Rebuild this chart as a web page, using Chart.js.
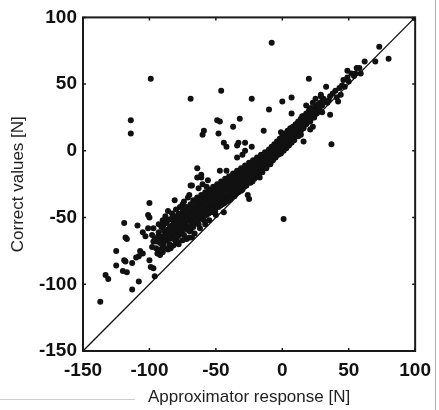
<!DOCTYPE html>
<html>
<head>
<meta charset="utf-8">
<script src="https://cdn.jsdelivr.net/npm/chart.js@4.4.1/dist/chart.umd.min.js"></script>
<style>
  html, body { margin: 0; padding: 0; background: #fff; }
  #wrap { width: 439px; height: 410px; position: relative; }
</style>
</head>
<body>
<div id="wrap"><canvas id="myChart" width="439" height="410"></canvas></div>
<script>
// axis range and tick labels
const axisMin = -150;
const axisMax = 100;
const tickValues = [-150, -100, -50, 0, 50, 100];

// y = x reference line
const identityLine = [[-150, -150], [100, 100]];

// dense band of points (approximator response, correct value)
const bandPoints = [
  [-96,-66],[-95,-73],[-94,-77],[-93,-61],[-92,-69],[-92,-74],
  [-91,-57],[-90,-64],[-90,-71],[-89,-60],[-88,-67],[-88,-73],
  [-87,-54],[-86,-59],[-86,-65],[-85,-70],[-85,-62],[-84,-51],
  [-83,-56],[-83,-61],[-82,-66],[-81,-49],[-81,-54],[-80,-59],
  [-80,-64],[-79,-68],[-79,-52],[-78,-47],[-78,-57],[-77,-61],
  [-76,-50],[-76,-55],[-75,-44],[-75,-59],[-74,-63],[-74,-48],
  [-73,-53],[-72,-42],[-72,-57],[-71,-46],[-71,-50],[-70,-60],
  [-69,-40],[-69,-44],[-68,-49],[-68,-54],[-67,-37],[-67,-57],
  [-66,-42],[-66,-46],[-65,-51],[-64,-35],[-64,-39],[-63,-45],
  [-63,-55],[-62,-48],[-61,-33],[-61,-37],[-60,-42],[-60,-51],
  [-59,-45],[-58,-31],[-58,-36],[-57,-39],[-57,-48],[-56,-43],
  [-55,-29],[-55,-34],[-54,-37],[-54,-46],[-53,-41],[-52,-27],
  [-52,-32],[-51,-35],[-51,-44],[-50,-39],[-49,-25],[-49,-30],
  [-48,-33],[-48,-42],[-47,-37],[-46,-23],[-46,-28],[-45,-31],
  [-45,-40],[-44,-35],[-43,-21],[-43,-26],[-42,-29],[-42,-38],
  [-41,-33],[-40,-19],[-40,-24],[-39,-27],[-39,-36],[-38,-31],
  [-37,-17],[-37,-22],[-36,-25],[-36,-34],[-35,-29],[-34,-15],
  [-34,-20],[-33,-23],[-33,-31],[-32,-27],[-31,-13],[-31,-18],
  [-30,-21],[-30,-29],[-29,-25],[-28,-11],[-28,-16],[-27,-19],
  [-27,-26],[-26,-22],[-25,-9],[-25,-14],[-24,-17],[-24,-24],
  [-23,-20],[-22,-7],[-22,-12],[-21,-15],[-21,-21],[-20,-18],
  [-19,-5],[-19,-10],[-18,-13],[-18,-19],[-17,-16],[-16,-3],
  [-16,-8],[-15,-11],[-15,-16],[-14,-13],[-13,-1],[-13,-6],
  [-12,-9],[-12,-13],[-11,-4],[-10,1],[-10,-7],[-9,-2],
  [-9,-10],[-8,3],[-8,-5],[-7,0],[-7,-7],[-6,5],
  [-6,-3],[-5,2],[-5,-5],[-4,7],[-4,-1],[-3,4],
  [-3,-3],[-2,9],[-2,1],[-1,6],[-1,-2],[0,11],
  [0,3],[1,8],[1,0],[2,13],[2,5],[3,10],
  [3,2],[4,15],[4,7],[5,12],[5,4],[6,17],
  [6,9],[7,14],[7,6],[8,18],[8,11],[9,16],
  [9,8],[10,20],[10,13],[11,17],[12,22],[12,11],
  [13,19],[14,24],[14,15],[15,21],[16,26],[16,17],
  [17,23],[18,28],[18,20],[19,25],[20,30],[21,27],
  [21,22],[22,32],[23,28],[24,25],[25,33],[26,30],
  [27,35],[28,31],[29,34],[30,37]
];

// extra points filling the core of the band
const bandCore = [
  [-93.5,-64],[-91.5,-67],[-89.5,-56],[-89.5,-69],[-87.5,-62],[-86.5,-52],[-85.5,-66],
  [-84.5,-57],[-83.5,-63],[-82.5,-52],[-82.5,-59],[-81.5,-62],[-80.5,-51],[-80.5,-56],
  [-79.5,-61],[-78.5,-54],[-78.5,-64],[-77.5,-49],[-77.5,-58],[-76.5,-53],[-75.5,-47],
  [-75.5,-62],[-74.5,-56],[-73.5,-44],[-73.5,-50],[-72.5,-54],[-71.5,-59],[-71.5,-43],
  [-70.5,-48],[-69.5,-52],[-69.5,-57],[-68.5,-42],[-67.5,-46],[-67.5,-51],[-66.5,-55],
  [-65.5,-38],[-65.5,-45],[-64.5,-49],[-63.5,-41],[-63.5,-52],[-62.5,-36],[-62.5,-44],
  [-61.5,-47],[-60.5,-39],[-60.5,-35],[-59.5,-49],[-58.5,-42],[-57.5,-34],[-57.5,-45],
  [-56.5,-38],[-55.5,-41],[-55.5,-47],[-54.5,-31],[-53.5,-35],[-53.5,-44],[-52.5,-39],
  [-51.5,-29],[-51.5,-41],[-50.5,-33],[-50.5,-45],[-49.5,-36],[-48.5,-28],[-48.5,-39],
  [-47.5,-31],[-46.5,-35],[-46.5,-41],[-45.5,-26],[-45.5,-37],[-44.5,-29],[-43.5,-33],
  [-43.5,-39],[-42.5,-24],[-42.5,-35],[-41.5,-27],[-40.5,-30],[-40.5,-37],[-39.5,-22],
  [-39.5,-33],[-38.5,-25],[-37.5,-28],[-37.5,-34],[-36.5,-20],[-36.5,-30],[-35.5,-23],
  [-34.5,-26],[-34.5,-32],[-33.5,-18],[-33.5,-28],[-32.5,-21],[-31.5,-24],[-31.5,-29],
  [-30.5,-16],[-30.5,-26],[-29.5,-19],[-28.5,-22],[-28.5,-27],[-27.5,-14],[-26.5,-17],
  [-26.5,-24],[-25.5,-20],[-24.5,-12],[-24.5,-21],[-23.5,-15],[-22.5,-18],[-22.5,-23],
  [-21.5,-10],[-20.5,-13],[-20.5,-20],[-19.5,-16],[-18.5,-8],[-18.5,-17],[-17.5,-11],
  [-16.5,-14],[-15.5,-6],[-15.5,-13],[-14.5,-9],[-13.5,-11],[-12.5,-4],[-11.5,-7],
  [-11.5,-11],[-10.5,-2],[-9.5,-5],[-8.5,0],[-8.5,-8],[-7.5,-3],[-6.5,2],[-5.5,-1],
  [-4.5,4],[-3.5,1],[-2.5,6],[-2.5,-1],[-1.5,3],[-0.5,8],[-0.5,0],[0.5,5],[1.5,10],
  [1.5,2],[2.5,8],[3.5,12],[3.5,5],[4.5,10],[5.5,14],[5.5,7],[6.5,12],[7.5,9],[7.5,16],
  [8.5,14],[9.5,11],[10.5,17],[11.5,14],[12.5,19],[13.5,16],[14.5,20],[15.5,23],[17.5,21],
  [19.5,23],[20.5,28],[22.5,25],[24.5,30],[26.5,33],[28.5,36]
];

// ragged edges of the band, mostly on its lower-left part
const bandFringe = [
  [-70,-65],[-72,-66],[-75,-67],[-78,-70],[-82,-71],[-86,-74],[-90,-76],[-66,-62],
  [-62,-58],[-58,-55],[-55,-52],[-50,-48],[-80,-69],[-84,-73],[-92,-78],
  [-86,-45],[-83,-47],[-80,-44],[-77,-42],[-74,-38],[-71,-35],[-90,-52],[-93,-55],
  [-97,-58],[-63,-28],[-60,-25],[-57,-27],[-88,-49],[-95,-68],[-98,-72]
];

// scattered points away from the band
const sparsePoints = [
  [-8,81],[-99,54],[-46,45],[-69,39],[-23,39],[20,54],[0,37],[7,40],[-10,31],
  [33,48],[-114,23],[-114,13],[-49,23],[-47,22],[-32,24],[-59,15],[-60,12],
  [-37,18],[-48,13],[-14,15],[7,28],[-44,6],[-42,3],[-33,6],[-34,4],[-28,6],
  [-23,3],[-1,14],[14,12],[16,7],[-28,0],[-30,-3],[-34,-5],
  [-47,-15],[-42,-15],[-64,-13],[-61,-18],[-61,-20],[-69,-26],[-56,-22],
  [73,78],[80,69],[70,67],[62,67],[37,5],[36,27],[1,-51],
  [-137,-113],[-113,-104],[-133,-93],[-131,-96],[-108,-98],[-96,-94],
  [-125,-75],[-119,-82],[-118,-83],[-113,-84],[-125,-86],[-120,-90],[-117,-91],
  [-119,-54],[-118,-65],[-117,-66],[-109,-56],[-100,-39],[-101,-48],[-100,-50],
  [-26,-33],[-25,-36],[-44,-46],[-17,-20],[-53,-45],[-52,-46],[-69,-60],
  [-68,-65],[-59,-52],[-31,-30],
  [-107,-75],[-108,-79],[-100,-82],[-99,-87],[-97,-88],[-110,-80],[-105,-77],
  [-105,-61],[-103,-64],[-101,-58],[-98,-63],[-97,-68],
  [-68,-26],[-64,-20],[-81,-37],[-75,-40],[-70,-33],
  [56,62],[58,62],[49,60],[52,58],[54,56],[49,55],[46,53],[45,49],[43,47],[44,42],
  [29,41],[31,39],[35,38],[36,41],[34,36],[30,34],[28,33],[26,28],
  [18,34],[21,32],[23,28],[19,26],[15,26],[14,23],[16,21],[12,21],
  [23,36],[25,39],[29,42],[31,37],[26,32],[30,29],[21,27],
  [21,16],[23,18],[38,43],[40,45],[41,40],[47,48],[50,52],[55,58],[59,58],[42,37],
  [99.5,99.5]
];

const toXY = (list) => list.map(([x, y]) => ({ x, y }));

// box, inward tick marks and the stray screenshot lines
const framePlugin = {
  id: "frame",
  afterDraw(chart) {
    const ctx = chart.ctx;
    const { left, right, top, bottom } = chart.chartArea;
    const xs = chart.scales.x, ys = chart.scales.y;
    ctx.save();
    ctx.strokeStyle = "#1a1a1a";
    ctx.lineWidth = 2;
    ctx.strokeRect(left, top, right - left, bottom - top);
    ctx.lineWidth = 1.5;
    ctx.beginPath();
    tickValues.forEach((v) => {
      const px = xs.getPixelForValue(v);
      ctx.moveTo(px, bottom); ctx.lineTo(px, bottom - 3);
      ctx.moveTo(px, top); ctx.lineTo(px, top + 3);
      const py = ys.getPixelForValue(v);
      ctx.moveTo(left, py); ctx.lineTo(left + 3, py);
      ctx.moveTo(right, py); ctx.lineTo(right - 3, py);
    });
    ctx.stroke();
    // light red edge line and grey rule from the original screenshot
    ctx.strokeStyle = "rgba(235,120,120,0.8)";
    ctx.lineWidth = 1;
    ctx.beginPath(); ctx.moveTo(435.5, 0); ctx.lineTo(435.5, 410); ctx.stroke();
    ctx.strokeStyle = "#cfcfcf";
    ctx.beginPath(); ctx.moveTo(0, 399.5); ctx.lineTo(135, 399.5); ctx.stroke();
    ctx.restore();
  },
};

const tickFont = { family: "'Liberation Sans', Arial, sans-serif", size: 19, weight: "bold" };
const titleFont = { family: "'Liberation Sans', Arial, sans-serif", size: 17 };

const dotStyle = { backgroundColor: "#111", borderWidth: 0, pointRadius: 3 };

new Chart(document.getElementById("myChart"), {
  type: "scatter",
  data: {
    datasets: [
      {
        type: "line",
        data: toXY(identityLine),
        borderColor: "#111",
        borderWidth: 1.3,
        pointRadius: 0,
        fill: false,
      },
      { data: toXY(bandPoints), ...dotStyle },
      { data: toXY(bandCore), ...dotStyle },
      { data: toXY(bandFringe), ...dotStyle },
      { data: toXY(sparsePoints), ...dotStyle },
    ],
  },
  options: {
    responsive: false,
    animation: false,
    layout: { padding: { left: 0, right: 20, top: 15, bottom: 0 } },
    plugins: { legend: { display: false }, tooltip: { enabled: false } },
    scales: {
      x: {
        type: "linear",
        min: axisMin,
        max: axisMax,
        afterFit: (s) => { s.height = 59; },
        afterBuildTicks: (s) => { s.ticks = tickValues.map((v) => ({ value: v })); },
        grid: { display: false, drawTicks: false },
        border: { display: false },
        ticks: { color: "#111", font: tickFont, padding: 8, maxRotation: 0 },
        title: {
          display: true,
          text: "Approximator response [N]",
          color: "#222",
          font: titleFont,
          padding: { top: 0, bottom: 2 },
        },
      },
      y: {
        type: "linear",
        min: axisMin,
        max: axisMax,
        afterFit: (s) => { s.width = 83; },
        afterBuildTicks: (s) => { s.ticks = tickValues.map((v) => ({ value: v })); },
        grid: { display: false, drawTicks: false },
        border: { display: false },
        ticks: { color: "#111", font: tickFont, padding: 6 },
        title: {
          display: true,
          text: "Correct values [N]",
          color: "#222",
          font: titleFont,
          padding: { top: 8, bottom: 0 },
        },
      },
    },
  },
  plugins: [framePlugin],
});
</script>
</body>
</html>
